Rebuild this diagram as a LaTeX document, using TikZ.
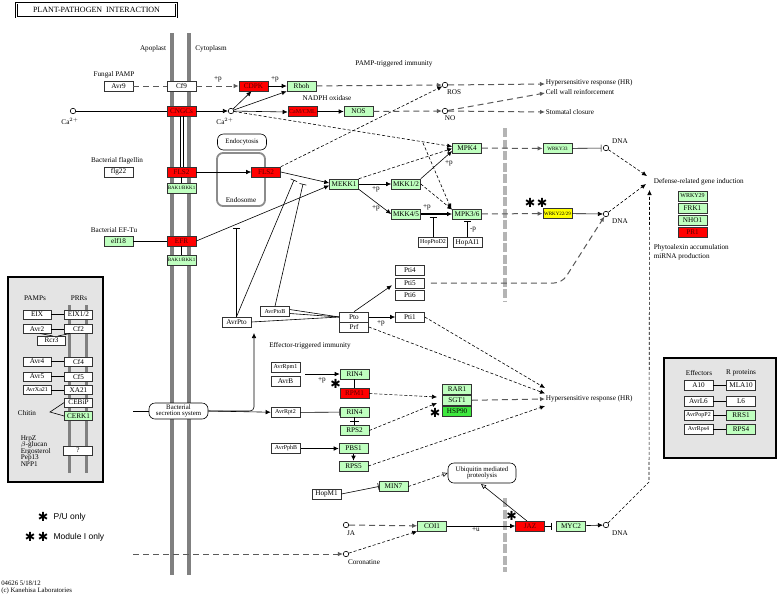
\documentclass[tikz,border=0pt]{standalone}
\usepackage{fontspec}
\setmainfont{Liberation Serif}
\setsansfont{Liberation Sans}
\newfontfamily\astfont{DejaVu Sans}
\usetikzlibrary{arrows.meta}
\definecolor{kgreen}{HTML}{BFFFBF}
\definecolor{kred}{HTML}{FF0000}
\definecolor{kredtext}{HTML}{5A0000}
\definecolor{kyellow}{HTML}{FFFF00}
\definecolor{kbright}{HTML}{3FE83F}
\definecolor{memb}{HTML}{808080}
\definecolor{boxgray}{HTML}{E4E4E4}
\definecolor{nucbar}{HTML}{B4B4B4}
\tikzset{
 gene/.style={draw=black!80, fill=white, minimum width=29pt, minimum height=10pt, inner sep=0pt, font=\fontsize{7.2}{7.5}\selectfont},
 gg/.style={gene, fill=kgreen},
 rg/.style={gene, fill=kred, text=kredtext},
 tiny/.style={font=\fontsize{5}{6}\selectfont},
 small/.style={font=\fontsize{6}{6.5}\selectfont},
 lbl/.style={font=\fontsize{7.2}{8}\selectfont, inner sep=0.5pt},
 cpd/.style={circle, draw, fill=white, minimum size=5.5pt, inner sep=0pt},
 arr/.style={-{Latex[length=5pt,width=4.5pt]}},
 oarr/.style={-{Triangle[open,length=5pt,width=4.5pt]}},
 cdash/.style={dash pattern=on 6pt off 4pt, line width=1pt, draw=black!65},
 fdash/.style={dash pattern=on 3pt off 2pt},
 inh/.style={-{Bar[width=7pt]}},
 membrane/.style={line width=3.5pt, draw=memb},
 astk/.style={font=\astfont\fontsize{12.5}{12.5}\selectfont, inner sep=0pt},
 rbox/.style={draw, rounded corners=6pt, fill=white, inner sep=1pt, align=center, font=\fontsize{6.8}{7.5}\selectfont},
}
\begin{document}
\begin{tikzpicture}[x=1pt,y=-1pt, line width=0.6pt]
\useasboundingbox (0,0) rectangle (778,598);
% title
\node[draw, double, double distance=1pt, line width=0.6pt, minimum width=160pt, minimum height=14pt, inner sep=0pt, font=\fontsize{8}{9}\selectfont] (title) at (96.5,10) {PLANT-PATHOGEN\ \ INTERACTION};
% membrane
\draw[membrane] (172,33) -- (172,575);
\draw[membrane] (189,33) -- (189,575);
\node[lbl] (apo) at (153,49) {Apoplast};
\node[lbl] (cyto) at (211,49) {Cytoplasm};
% nucleus bars
\draw[line width=4pt, draw=nucbar, dash pattern=on 9pt off 2.5pt] (505,128) -- (505,302);
\draw[line width=4pt, draw=nucbar, dash pattern=on 9pt off 2.5pt] (505,498) -- (505,572);
% endosome
\draw[draw=black!45, line width=1.8pt, rounded corners=6pt] (217,153) rectangle (265,206);
\node[lbl] (endosome) at (241,200) {Endosome};
\node[rbox, minimum width=49pt, minimum height=16pt] (endocyt) at (242,142) {Endocytosis};
% labels
\node[lbl] (fpamp) at (114,75) {Fungal PAMP};
\node[lbl] (bflag) at (117,161) {Bacterial flagellin};
\node[lbl] (beftu) at (114,230) {Bacterial EF-Tu};
\node[lbl] (ptilbl) at (394,64) {PAMP-triggered immunity};
\node[lbl] (nadph) at (327,98) {NADPH oxidase};
\node[lbl] (etilbl) at (310,346) {Effector-triggered immunity};
% genes top
\node[gene] (Avr9) at (118.5,86) {Avr9};
\node[gene] (Cf9) at (181.5,86) {Cf9};
\node[rg] (CDPK) at (253.5,86) {CDPK};
\node[gg] (Rboh) at (301.5,86) {Rboh};
\node[rg] (CNGC) at (181.5,111) {CNGCs};
\node[rg, small] (CaM) at (302.5,111.5) {CaM/CML};
\node[gg] (NOS) at (358.5,111.5) {NOS};
\node[cpd] (Ca1) at (73,111) {};
\node[lbl] at (70,121) {Ca$^{2+}$};
\node[cpd] (Ca2) at (231,111) {};
\node[lbl] at (225,121) {Ca$^{2+}$};
\node[cpd] (ROS) at (445,85) {};
\node[lbl] at (454,92) {ROS};
\node[cpd] (NO) at (445,111) {};
\node[lbl] at (450,118.5) {NO};
\node[lbl, anchor=west] (hr1) at (545,83) {Hypersensitive response (HR)};
\node[lbl, anchor=west] (cwr) at (545,92) {Cell wall reinforcement};
\node[lbl, anchor=west] (stom) at (545,112) {Stomatal closure};
% flagellin / EF-Tu
\node[gene] (flg22) at (118.5,172) {flg22};
\node[rg] (FLS2m) at (181.5,172) {FLS2};
\node[rg] (FLS2e) at (266,172) {FLS2};
\node[gg, tiny] (BAK1a) at (181.5,188) {BAK1/BKK1};
\node[gg] (elf18) at (118.5,241) {elf18};
\node[rg] (EFR) at (181.5,241) {EFR};
\node[gg, tiny] (BAK1b) at (181.5,260) {BAK1/BKK1};
% MAPK
\node[gg] (MEKK1) at (344,184) {MEKK1};
\node[gg] (MKK12) at (406,184) {MKK1/2};
\node[gg] (MKK45) at (406,214) {MKK4/5};
\node[gg] (MPK36) at (467,214) {MPK3/6};
\node[gg] (MPK4) at (467,148) {MPK4};
\node[gene, small] (HopPtoD2) at (433,242.5) {HopPtoD2};
\node[gene] (HopAI1) at (467.5,242.5) {HopAI1};
\node[gg, tiny] (WRKY33) at (557.5,148.5) {WRKY33};
\node[cpd] (DNA1) at (606,148) {};
\node[lbl] at (620,141) {DNA};
\node[gene, fill=kyellow, tiny] (WRKY22) at (557.5,213.5) {WRKY22/29};
\node[cpd] (DNA2) at (606,214) {};
\node[lbl] at (620,221) {DNA};
\node[lbl, anchor=west] (defense) at (653,182) {Defense-related gene induction};
\node[gg, small] (WRKY29) at (692.5,196) {WRKY29};
\node[gg] (FRK1) at (692.5,208) {FRK1};
\node[gg] (NHO1) at (692.5,220) {NHO1};
\node[rg] (PR1) at (692.5,232) {PR1};
\node[lbl, anchor=west] (phyto) at (653,248) {Phytoalexin accumulation};
\node[lbl, anchor=west] (mirna) at (653,257) {miRNA production};
% Pto
\node[gene] (Pti4) at (410,270.5) {Pti4};
\node[gene] (Pti5) at (410,283) {Pti5};
\node[gene] (Pti6) at (410,295.5) {Pti6};
\node[gene] (Pto) at (354,317) {Pto};
\node[gene] (Prf) at (354,327) {Prf};
\node[gene] (Pti1) at (410,317) {Pti1};
\node[gene, small] (AvrPtoB) at (275,311.5) {AvrPtoB};
\node[gene] (AvrPto) at (236.5,322) {AvrPto};
% ETI
\node[rbox, minimum width=59pt, minimum height=16pt] (Bss) at (178.5,411) {Bacterial\\[-1.5pt]secretion system};
\node[gene, small] (AvrRpm1) at (285.5,367.5) {AvrRpm1};
\node[gene] (AvrB) at (285.5,381) {AvrB};
\node[gg] (RIN4a) at (354.5,374) {RIN4};
\node[rg] (RPM1) at (354.5,393.5) {RPM1};
\node[gg] (RAR1) at (457,389.5) {RAR1};
\node[gg] (SGT1) at (457,400.5) {SGT1};
\node[gene, fill=kbright] (HSP90) at (457,411.5) {HSP90};
\node[gene, small] (AvrRpt2) at (285.5,412.5) {AvrRpt2};
\node[gg] (RIN4b) at (354.5,412) {RIN4};
\node[gg] (RPS2) at (354.5,430.5) {RPS2};
\node[gene, small] (AvrPphB) at (286,448.5) {AvrPphB};
\node[gg] (PBS1) at (353.5,448.5) {PBS1};
\node[gg] (RPS5) at (353.5,466) {RPS5};
\node[lbl, anchor=west] (hr2) at (545,399) {Hypersensitive response (HR)};
\node[gene] (HopM1) at (326.5,494) {HopM1};
\node[gg] (MIN7) at (393.5,486.5) {MIN7};
\node[rbox, minimum width=68pt, minimum height=20pt] (Ubiq) at (482,473) {Ubiquitin mediated\\[-1.5pt]proteolysis};
% JA
\node[cpd] (JA) at (346,525) {};
\node[lbl] at (351,533) {JA};
\node[cpd] (Cor) at (346,554) {};
\node[lbl] at (364,562) {Coronatine};
\node[gg] (COI1) at (432,526) {COI1};
\node[rg] (JAZ) at (530,526) {JAZ};
\node[gg] (MYC2) at (571,526) {MYC2};
\node[cpd] (DNA3) at (606,525) {};
\node[lbl] at (620,533) {DNA};
% right box
\draw[line width=1.3pt, fill=boxgray] (664,358) rectangle (776,458);
\node[lbl] at (699,373) {Effectors};
\node[lbl] at (741,373) {R proteins};
\node[gene] (A10) at (698.5,385.5) {A10};
\node[gene] (MLA10) at (741,385.5) {MLA10};
\node[gene] (AvrL6) at (698.5,401.5) {AvrL6};
\node[gene] (L6) at (741,401.5) {L6};
\node[gene, small] (AvrPopP2) at (698.5,415) {AvrPopP2};
\node[gg] (RRS1) at (741,415) {RRS1};
\node[gene, small] (AvrRps4) at (698.5,429) {AvrRps4};
\node[gg] (RPS4) at (741,429) {RPS4};
\draw (A10) -- (MLA10); \draw (AvrL6) -- (L6); \draw (AvrPopP2) -- (RRS1); \draw (AvrRps4) -- (RPS4);
% left box
\draw[line width=1.3pt, fill=boxgray] (8,277) rectangle (103,482);
\node[lbl] at (35,298) {PAMPs};
\node[lbl] at (79,298) {PRRs};
\draw[line width=3pt, draw=memb] (69,305) -- (69,473);
\draw[line width=3pt, draw=memb] (86,305) -- (86,473);
\node[gene, minimum width=28pt, minimum height=9pt] (EIX) at (37,314.5) {EIX};
\node[gene, minimum width=28pt, minimum height=9pt] (EIX12) at (78.5,314.5) {EIX1/2};
\node[gene, minimum width=28pt, minimum height=9pt] (Avr2) at (37,329) {Avr2};
\node[gene, minimum width=28pt, minimum height=9pt] (Cf2) at (78.5,329) {Cf2};
\node[gene, minimum width=28pt, minimum height=9pt] (Rcr3) at (51.5,340.5) {Rcr3};
\node[gene, minimum width=28pt, minimum height=9pt] (Avr4) at (37,361.5) {Avr4};
\node[gene, minimum width=28pt, minimum height=9pt] (Cf4) at (78.5,361.5) {Cf4};
\node[gene, minimum width=28pt, minimum height=9pt] (Avr5) at (37,376.5) {Avr5};
\node[gene, minimum width=28pt, minimum height=9pt] (Cf5) at (78.5,376.5) {Cf5};
\node[gene, small, minimum width=28pt, minimum height=9pt] (AvrXa21) at (37,390) {AvrXa21};
\node[gene, minimum width=28pt, minimum height=9pt] (XA21) at (78.5,390) {XA21};
\node[gene, minimum width=28pt, minimum height=9pt] (CEBiP) at (78.5,402.5) {CEBiP};
\node[gg, minimum width=28pt, minimum height=9pt] (CERK1) at (78.5,416) {CERK1};
\node[gene, minimum width=29pt, minimum height=9pt] (unk) at (78,450.5) {?};
\node[lbl] (chitin) at (27,413) {Chitin};
\node[lbl, anchor=west, align=left, font=\fontsize{7.2}{8}\selectfont] at (20,451) {HrpZ\\[-1.5pt]$\beta$-glucan\\[-1.5pt]Ergosterol\\[-1.5pt]Pep13\\[-1.5pt]NPP1};
\draw (EIX) -- (EIX12); \draw (Avr2) -- (Cf2); \draw (Avr4) -- (Cf4); \draw (Avr5) -- (Cf5); \draw (AvrXa21) -- (XA21);
\draw (40,333.5) -- (53,336); \draw (70,333.5) -- (58,336);
\draw (CEBiP.west) -- (50,412) -- (CERK1.west);
% legend
\node[astk] at (43,517) {✱};
\node[anchor=west, font=\sffamily\fontsize{8.5}{9}\selectfont] at (50,517) {P/U only};
\node[astk] at (30,537) {✱};
\node[astk] at (43,537) {✱};
\node[anchor=west, font=\sffamily\fontsize{8.5}{9}\selectfont] at (50,537) {Module I only};
\node[anchor=west, align=left, font=\fontsize{6.8}{7.2}\selectfont, inner sep=0pt] at (1,587.5) {04626 5/18/12\\(c) Kanehisa Laboratories};
% asterisks in map
\node[astk] at (530,203) {✱};
\node[astk] at (542,203) {✱};
\node[astk] at (335.5,383.5) {✱};
\node[astk] at (435,412.5) {✱};
\node[astk] at (511.5,516) {✱};
% connectors PTI
\draw[cdash] (Avr9) -- (Cf9);
\draw[cdash, arr] (Cf9) -- (CDPK);
\node[lbl] at (218,79) {+p};
\draw (Ca1) -- (CNGC);
\draw[arr] (CNGC) -- (Ca2);
\draw[arr] (Ca2) -- ([xshift=-2pt]CDPK.south);
\draw[arr] (Ca2) -- (Rboh.south west);
\draw[arr] (Ca2) -- ([yshift=-0.5pt]CaM.west);
\coordinate (br) at (423,143);
\draw[fdash, arr] (Ca2) -- ([yshift=1.5pt]MPK4.west);
\draw[fdash, arr] (br) -- ([xshift=-1pt]MPK36.north west);
\draw[arr] (CDPK) -- (Rboh);
\node[lbl] at (275,79) {+p};
\draw[cdash, arr] (Rboh) -- (ROS);
\draw[arr] (CaM) -- (NOS);
\draw[cdash, arr] (NOS) -- (NO);
\draw[cdash, arr] (ROS) -- ([yshift=-1pt]hr1.west);
\draw[cdash, arr] (NO) -- ([yshift=-1pt]cwr.west);
\draw[cdash, arr] (NO) -- (stom.west);
\draw[arr] (FLS2m) -- (FLS2e);
\draw (180,116) -- (180,167); \draw (183,116) -- (183,167);
\draw (FLS2m) -- (BAK1a);
\draw (EFR) -- (BAK1b);
\draw (elf18) -- (EFR);
\draw[arr] (FLS2e.east) -- ([yshift=1pt]MEKK1.west);
\draw[fdash, arr] (FLS2e.north east) -- (ROS);
\draw[arr] (EFR.east) -- ([yshift=-1.5pt]MEKK1.west);
\draw[arr] (MEKK1) -- (MKK12);
\node[lbl] at (376,189) {+p};
\draw[arr] (MEKK1.south east) -- (MKK45.west);
\node[lbl] at (376,208) {+p};
\draw[fdash, arr] (MEKK1.north east) -- ([yshift=-0.5pt]MPK4.west);
\draw[arr] (MKK12.north east) -- ([yshift=-3pt]MPK4.west);
\node[lbl] at (449,163) {+p};
\draw[fdash, arr] (MKK12.east) -- ([yshift=-1pt]MPK36.north west);
\draw[arr, line width=1.1pt] (MKK45) -- (MPK36);
\node[lbl] at (427,207) {+p};
\draw[inh] (HopPtoD2.north) -- (433,217);
\draw[inh] (HopAI1.north) -- (467.5,221);
\node[lbl] at (473,230) {-p};
\draw[cdash, arr] (MPK4) -- (WRKY33);
\draw[inh, shorten >=1.5pt] (WRKY33) -- (DNA1);
\draw[fdash, arr] (DNA1) -- (647,176);
\draw[cdash, arr] (MPK36) -- (WRKY22);
\draw[arr] (WRKY22) -- (DNA2);
\draw[fdash, arr] (DNA2) -- (646,184);
\draw[cdash, arr, rounded corners=8pt] ([xshift=6pt]Pti5.east) -- (562,283) -- (DNA2);
% Pto
\draw[arr] (Pto) -- (Pti1);
\node[lbl] at (381,323) {+p};
\draw[arr, shorten >=4pt] (Pto.north) -- (Pti5.west);
\draw ([yshift=2pt]AvrPtoB.east) -- (Pto.west);
\draw ([yshift=-2pt]AvrPtoB.east) -- (Pto.west);
\draw (AvrPto.east) -- (Pto.west);
\draw[inh] (AvrPto.north) -- (236.5,228);
\draw[inh] (AvrPto.north) -- (294,180);
\draw[inh] (AvrPtoB.north) -- (303,184);
\draw[fdash, arr] (Pti1.east) -- ([yshift=11pt]hr2.west);
\draw[fdash, arr] (Prf.east) -- ([yshift=5.5pt]hr2.west);
\draw[cdash, arr] (SGT1) -- (hr2.west);
\draw[fdash, arr] (RPS5.east) -- ([yshift=-7pt]hr2.west);
% ETI
\draw (133,411) -- (Bss);
\draw[arr, rounded corners=4pt] (Bss.east) -- (254,411) -- (254,333);
\draw[arr] (Bss.east) -- (AvrRpt2);
\coordinate (rpmst) at (305,374);
\draw[arr] (rpmst) -- (RIN4a);
\node[lbl] at (322,380) {+p};
\draw (RIN4a) -- (RPM1);
\draw[fdash, arr] (RPM1.east) -- (437,397);
\draw[fdash, arr] (RPS2.east) -- (437,403);
\draw[inh] (AvrRpt2) -- (RIN4b);
\draw (RIN4b) -- (RPS2);
\draw (350,421.5) -- (359,421.5);
\draw[arr] (AvrPphB) -- (PBS1);
\draw[arr] (PBS1) -- (RPS5);
\draw[inh] (HopM1.east) -- (MIN7.west);
\draw[fdash, oarr] (MIN7.east) -- (Ubiq.west);
\draw[oarr] (527,521) -- (481,484);
% JA
\draw[cdash, arr] (JA) -- (COI1);
\draw[fdash, arr] (Cor) -- (COI1.south west);
\coordinate (corst) at (133,554);
\draw[cdash, arr] (corst) -- (Cor);
\draw[arr] (COI1) -- (JAZ);
\node[lbl] at (476,529) {+u};
\draw[inh, shorten >=4.5pt] (JAZ) -- (MYC2);
\draw[arr] (MYC2) -- (DNA3);
\draw[fdash, arr] (DNA3) -- (649,482) -- (649.5,190);
\end{tikzpicture}
\end{document}
